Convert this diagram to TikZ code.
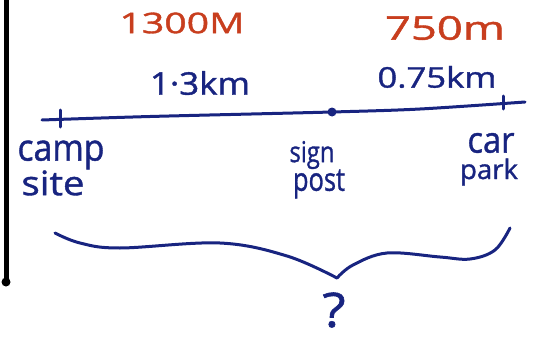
\documentclass[tikz,border=0pt]{standalone}
\usepackage{fontspec}
\setmainfont{Open Sans}[FakeBold=1.2]
\usepackage{graphicx}
\definecolor{inkblue}{RGB}{24,36,128}
\definecolor{inkred}{RGB}{200,62,30}
\newcommand\hw[3]{\resizebox*{#1pt}{#2pt}{#3}}
\begin{document}
\begin{tikzpicture}[x=1pt,y=-1pt,
  lbl/.style={inner sep=0pt,outer sep=0pt,anchor=center,text=inkblue},
  rlbl/.style={inner sep=0pt,outer sep=0pt,anchor=center,text=inkred},
  ink/.style={draw=inkblue,line width=3pt,line cap=round,line join=round}]
\useasboundingbox (0,0) rectangle (546,337);
% left black bar
\coordinate (bartop) at (6,0);
\coordinate (barbot) at (6,282);
\draw[line width=5pt] (bartop) -- (barbot);
\fill (barbot) circle (4.5);
% distances
\node[rlbl] (m1300) at (182,23) {\hw{125}{21}{1300M}};
\node[rlbl] (m750) at (445,28) {\hw{120}{24}{750m}};
\node[lbl] (k13) at (200,83) {\hw{100}{24}{1·3km}};
\node[lbl] (k075) at (437,77) {\hw{119}{22}{0.75km}};
% main line
\coordinate (L) at (42,120);
\coordinate (R) at (525,102);
\node[circle,fill=inkblue,inner sep=0pt,minimum size=9pt] (dot) at (332,112) {};
\draw[ink] plot[smooth] coordinates {(L) (150,116.5) (dot.center) (420,109) (R)};
\coordinate (t1a) at (60,110); \coordinate (t1b) at (60,127);
\coordinate (t2a) at (503,96); \coordinate (t2b) at (503,109);
\draw[ink] (t1a) -- (t1b);
\draw[ink] (t2a) -- (t2b);
% place labels
\node[lbl] (camp) at (61,155) {\hw{87}{29}{camp}};
\node[lbl] (site) at (53,183) {\hw{63}{25}{site}};
\node[lbl] (sign) at (312,155) {\hw{45}{28}{sign}};
\node[lbl] (post) at (319,184) {\hw{52}{29}{post}};
\node[lbl] (car) at (491,143) {\hw{47}{20}{car}};
\node[lbl] (park) at (489,172) {\hw{58}{27}{park}};
% brace
\coordinate (bL) at (55,233);
\coordinate (bM) at (337,278);
\coordinate (bR) at (510,228);
\draw[ink] plot[smooth,tension=0.6] coordinates {(bL) (80,243) (120,248) (220,243) (287,256) (bM)};
\draw[ink] plot[smooth,tension=0.6] coordinates {(bM) (353,265) (387,253) (440,257) (470,259) (495,250) (bR)};
\node[lbl] (q) at (334,310) {\hw{23}{35}{?}};
\end{tikzpicture}
\end{document}
